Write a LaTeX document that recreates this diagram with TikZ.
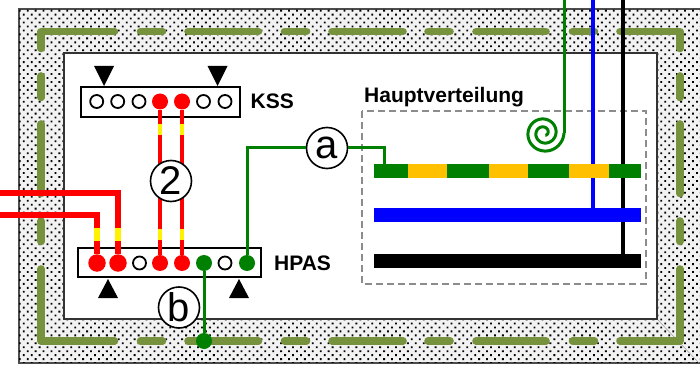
\documentclass[tikz,border=0pt]{standalone}
\usepackage{fontspec}
\setmainfont{Liberation Sans}
\usetikzlibrary{patterns.meta}
\definecolor{wallgreen}{HTML}{76923C}
\definecolor{pegreen}{HTML}{008000}
\definecolor{peamber}{HTML}{FFC000}
\begin{document}
\begin{tikzpicture}
  [
    x=1pt, y=-1pt,
    openpin/.style = {draw, circle, fill = white, line width=1.8pt, inner sep = 0pt, minimum size = 13pt},
    redpin/.style  = {circle, fill = red, inner sep = 0pt, minimum size = 16pt},
    bigpin/.style  = {circle, fill = red, inner sep = 0pt, minimum size = 17.5pt},
    pepin/.style   = {circle, fill = pegreen, inner sep = 0pt, minimum size = 16pt},
    strip/.style   = {draw, line width=1.8pt, fill = white, inner sep = 0pt},
    bar/.style     = {inner sep = 0pt, minimum width = 267pt, minimum height = 14pt},
    tag/.style     = {draw, circle, fill = white, line width=1.6pt, inner sep = 0pt, minimum size = 41pt, font=\fontsize{40}{40}\selectfont},
    lbl/.style     = {inner sep = 0pt, anchor=base west, font=\fontsize{21}{24}\selectfont\bfseries},
    wallline/.style = {wallgreen, line width=7.6pt, line cap=round, line join=round},
    redwire/.style = {red, line width=3.6pt},
    pewire/.style  = {pegreen, line width=3pt},
  ]

\useasboundingbox (0,0) rectangle (700,371);

%Wall with the inner room
\def \xwall{19}
\def \ywall{9}
\draw[black!70, line width=1.5pt, fill=black!5] (700,\ywall) -- (\xwall,\ywall) -- (\xwall,363) -- (700,363);
\fill[pattern={Dots[angle=45, distance=5.6pt, radius=1.3pt]}] (\xwall,\ywall) rectangle (700,362);
\draw[black!40, line width=0.5pt] (657,319) -- (699,363);
\draw[black!80, line width=1.6pt, fill=white] (64,53) rectangle (657,319);

%Dashed line running round in the wall
\def \xl{41}
\def \xr{680}
\def \yt{31.5}
\def \yb{341}
\draw[wallline] (\xl,48.5) -- (\xl,\yt) -- (114.5,\yt);
\draw[wallline] (\xl,269) -- (\xl,\yb) -- (114.5,\yb);
\draw[wallline] (\xr,48.5) -- (\xr,\yt) -- (620,\yt);
\draw[wallline] (\xr,269) -- (\xr,\yb) -- (620,\yb);
\foreach \a/\b in {140.5/162.5,188/258.5,284.5/306.5,332/403,428/450,476/546,572.5/594.5}
{
\draw[wallline] (\a,\yt) -- (\b,\yt);
\draw[wallline] (\a,\yb) -- (\b,\yb);
}
\foreach \a/\b in {76/97.5,124/193.5,221/241.5}
{
\draw[wallline] (\xl,\a) -- (\xl,\b);
\draw[wallline] (\xr,\a) -- (\xr,\b);
}

%Terminal strips
\node[strip, minimum width=159pt, minimum height=30pt] (kss) at (160.5,102) {};
\node[strip, minimum width=183pt, minimum height=29pt] (hpas) at (169.5,262.5) {};
\foreach [count=\i] \x/\s in {96.7/openpin,117.7/openpin,139/openpin,160/redpin,182/redpin,203.5/openpin,225/openpin}
{
\node[\s] (k\i) at (\x,101.5) {};
}
\foreach [count=\i] \x/\s in {97/bigpin,118/bigpin,139.5/openpin,160/redpin,182/redpin,204/pepin,225/openpin,247/pepin}
{
\node[\s] (h\i) at (\x,263) {};
}
\foreach \x in {104,217.5}
{
\fill (\x-10,66) -- (\x+10,66) -- (\x,86) -- cycle;
}
\foreach \x in {108,239}
{
\fill (\x-10,298) -- (\x+10,298) -- (\x,279) -- cycle;
}
\node[lbl] (ksslbl) at (250.5,109) {KSS};
\node[lbl] (hpaslbl) at (274,270) {HPAS};

%Distribution box
\draw[black!45, line width=1.2pt, dash pattern=on 7pt off 4pt] (362,111) rectangle (646,284);
\node[lbl] (hvlbl) at (364,103) {Hauptverteilung};

%Feeds from above
\coordinate (petop) at (564,0);
\coordinate (ntop) at (593,0);
\coordinate (ltop) at (623,0);
\coordinate (peend) at (564,133);
\coordinate (nend) at (593,210);
\coordinate (lend) at (623,256);
\draw[blue, line width=3.6pt] (ntop) -- (nend);
\draw[black, line width=3.6pt] (ltop) -- (lend);
\draw[pewire] (petop) -- (peend);
\draw[pewire] plot[domain=0:780, samples=160, smooth, variable=\t] ({544+(20-\t/45)*cos(\t)},{133+(20-\t/45)*sin(\t)});

%Bars
\node[bar, fill=pegreen] (pebar) at (507.5,171) {};
\node[bar, fill=blue] (nbar) at (507.5,215) {};
\node[bar, fill=black] (lbar) at (507.5,261) {};
\foreach \a/\b in {408/447,489/528,569/609}
{
\fill[peamber] (\a,164) rectangle (\b,178);
}

%Red wires
\coordinate (red1) at (0,215);
\coordinate (red2) at (0,193.5);
\draw[redwire] (k4) -- (h4);
\draw[redwire] (k5) -- (h5);
\draw[red, line width=6pt] (h1) |- (red1);
\draw[red, line width=6pt] (h2) |- (red2);
\foreach \x in {160,182}
{
\fill[yellow] (\x-1.8,124) rectangle (\x+1.8,135);
\fill[yellow] (\x-1.8,229) rectangle (\x+1.8,240);
}
\foreach \x in {97,118}
{
\fill[yellow] (\x-3,228) rectangle (\x+3,241);
}

%Earth wires with the tags
\node[tag] (tagtwo) at (171,181) {2};
\node[tag] (taga) at (327,148) {a};
\node[tag] (tagb) at (179,307.5) {b};
\coordinate (pejoin) at (384.5,164);
\node[pepin] (pedot) at (204,341) {};
\draw[pewire] (h8) |- (taga);
\draw[pewire] (taga) -| (pejoin);
\draw[pewire] (h6) -- (pedot);

\end{tikzpicture}
\end{document}
